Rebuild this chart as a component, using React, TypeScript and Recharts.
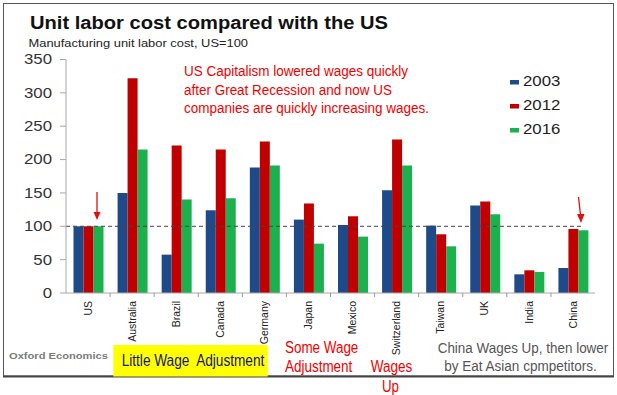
import React from 'react';
import { BarChart, Bar, XAxis, YAxis, ReferenceLine, Legend } from 'recharts';

const categories = ['US', 'Australia', 'Brazil', 'Canada', 'Germany', 'Japan', 'Mexico', 'Switzerland', 'Taiwan', 'UK', 'India', 'China'];
const values2003 = [100, 150, 57.5, 124, 188, 110, 102, 154, 101, 131, 28, 37.5];
const values2012 = [100, 322, 221, 215, 227, 134, 115, 230, 88, 137, 34, 96];
const values2016 = [100, 215, 140, 142, 191, 74, 84.5, 191, 70, 118, 31.5, 94];
const yTicks = [0, 50, 100, 150, 200, 250, 300, 350];
const seriesNames = ['2003', '2012', '2016'];
const seriesColors = ['#1f4a8a', '#c00000', '#1cb04e'];

const data = categories.map((c, i) => ({
  name: c,
  '2003': values2003[i],
  '2012': values2012[i],
  '2016': values2016[i],
}));

const W = 617;
const H = 395;
const MARGIN = { top: 59.5, right: 22, bottom: 62, left: 8 };
const Y_AXIS_W = 58;
const PLOT_W = W - MARGIN.left - MARGIN.right - Y_AXIS_W;
const BAND = PLOT_W / categories.length;
const FONT = "'Liberation Sans', Arial, sans-serif";
const NARROW = "'Liberation Sans Narrow', 'Liberation Sans', Arial, sans-serif";

const XTick = (props: any) => {
  const { x, y, payload, index } = props;
  return (
    <g>
      <text
        transform={`translate(${x},${y}) rotate(-90)`}
        textAnchor="end"
        dy="0.35em"
        fontSize={10.5}
        fill="#222"
        fontFamily={FONT}
      >
        {payload.value}
      </text>
      {index < categories.length - 1 && (
        <line x1={x + BAND / 2} x2={x + BAND / 2} y1={y - 8} y2={y - 4} stroke="#999" />
      )}
    </g>
  );
};

const YTick = (props: any) => {
  const { x, y, payload } = props;
  return (
    <g transform={`translate(${x},${y}) scale(1.2,1)`}>
      <text x={0} y={0} dy="0.35em" textAnchor="end" fontSize={14} fill="#333" fontFamily={FONT}>
        {payload.value}
      </text>
    </g>
  );
};

const LegendContent = () => (
  <svg width={80} height={70} style={{ display: 'block' }}>
    {seriesNames.map((n, i) => (
      <g key={n}>
        <rect x={5} y={10 + i * 24} width={9} height={4.5} fill={seriesColors[i]} />
        <g transform={`translate(18,${16 + i * 24}) scale(1.2,1)`}>
          <text x={0} y={0} fontSize={14} fill="#222" fontFamily={FONT}>
            {n}
          </text>
        </g>
      </g>
    ))}
  </svg>
);

const T = ({ x, y, w, size, fill, bold, family, children }: any) => (
  <text
    x={x}
    y={y}
    textLength={w}
    lengthAdjust="spacingAndGlyphs"
    fontSize={size}
    fill={fill}
    fontWeight={bold ? 'bold' : 'normal'}
    fontFamily={family || NARROW}
    style={{ whiteSpace: 'pre' }}
  >
    {children}
  </text>
);

const RefShape = (p: any) => (
  <line x1={p.x1} y1={p.y1} x2={p.x2 - 12} y2={p.y2} stroke="#444" strokeWidth={1} strokeDasharray="4 3" />
);

export default function App() {
  return (
    <div style={{ position: 'absolute', left: 0, top: 0, width: W, height: H, background: '#fff', fontFamily: FONT }}>
      <BarChart width={W} height={H} data={data} margin={MARGIN} barCategoryGap="17%" barGap={0}>
        <XAxis
          dataKey="name"
          interval={0}
          height={40}
          tick={<XTick />}
          tickLine={false}
          axisLine={{ stroke: '#a8a8a8' }}
        />
        <YAxis
          domain={[0, 350]}
          ticks={yTicks}
          width={Y_AXIS_W}
          tickSize={6}
          tickMargin={8}
          tick={<YTick />}
          tickLine={{ stroke: '#a8a8a8' }}
          axisLine={{ stroke: '#a8a8a8' }}
          interval={0}
        />
        <Legend
          layout="vertical"
          align="center"
          verticalAlign="middle"
          content={<LegendContent />}
          wrapperStyle={{ position: 'absolute', left: 505, top: 70, width: 80, height: 70 }}
        />
        <ReferenceLine y={100} shape={<RefShape />} />
        {seriesNames.map((n, i) => (
          <Bar key={n} dataKey={n} fill={seriesColors[i]} isAnimationActive={false} />
        ))}
      </BarChart>
      <svg
        width={W}
        height={H}
        style={{ position: 'absolute', left: 0, top: 0, pointerEvents: 'none' }}
      >
        <rect x={3.5} y={3.5} width={610} height={372.5} fill="none" stroke="#555" strokeWidth={1} />
        <line x1={3} x2={614} y1={376.5} y2={376.5} stroke="#444" strokeWidth={2} />
        <T x={30} y={29.3} w={358} size={18} fill="#111" bold family={FONT}>
          Unit labor cost compared with the US
        </T>
        <T x={28.5} y={46.7} w={219.5} size={10.5} fill="#222" family={FONT}>
          Manufacturing unit labor cost, US=100
        </T>
        <T x={184} y={76} w={224} size={15.5} fill="#f00000">US Capitalism lowered wages quickly</T>
        <T x={184} y={94.5} w={208} size={15.5} fill="#f00000">after Great Recession and now US</T>
        <T x={184} y={112.8} w={245} size={15.5} fill="#f00000">companies are quickly increasing wages.</T>

        <line x1={97} y1={192} x2={97} y2={213} stroke="#e01010" strokeWidth={1.3} />
        <polygon points="93.5,212 100.5,212 97,220" fill="#e01010" />
        <line x1={578.5} y1={197} x2={580.5} y2={215} stroke="#e01010" strokeWidth={1.3} />
        <polygon points="577,214 584.5,214 581,223" fill="#e01010" />

        <T x={9} y={359.3} w={99} size={9.5} fill="#7a7a7a" bold family={FONT}>Oxford Economics</T>
        <rect x={113.3} y={345} width={154.4} height={31.5} fill="#ffff00" />
        <T x={121.7} y={365.7} w={142.6} size={16} fill="#16167a">Little Wage  Adjustment</T>
        <T x={285} y={353.3} w={73.3} size={16} fill="#f00000">Some Wage</T>
        <T x={285} y={371.7} w={67.3} size={16} fill="#f00000">Adjustment</T>
        <T x={370.7} y={371.7} w={41.6} size={16} fill="#f00000">Wages</T>
        <T x={382} y={391.7} w={17} size={16} fill="#f00000">Up</T>
        <T x={437.7} y={352.7} w={170.6} size={14} fill="#555">China Wages Up, then lower</T>
        <T x={444.3} y={370.7} w={152.4} size={14} fill="#555">by Eat Asian cpmpetitors.</T>
      </svg>
    </div>
  );
}
